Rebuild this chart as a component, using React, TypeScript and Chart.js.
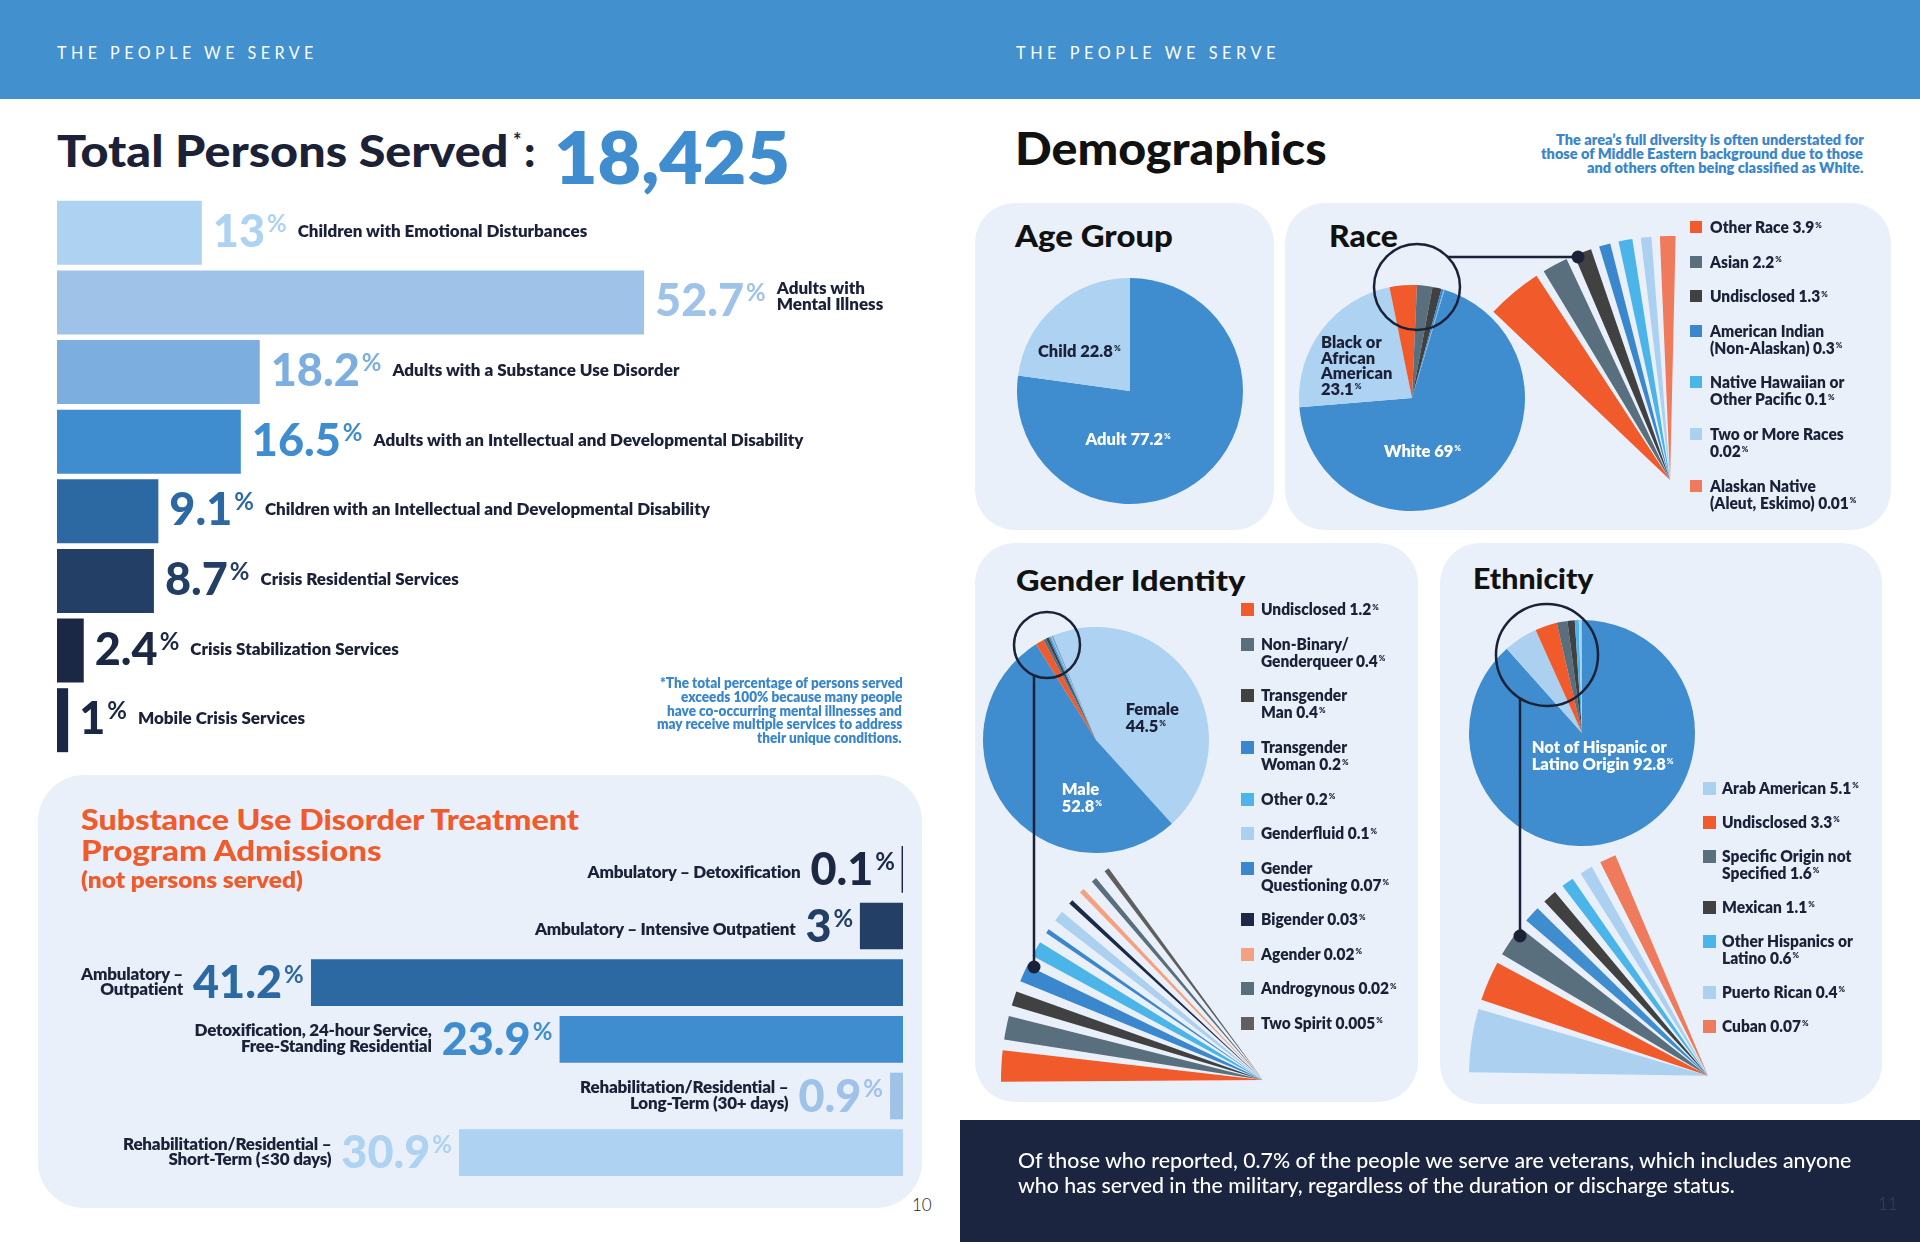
import React, { useEffect, useLayoutEffect, useRef, useState } from 'react';
import { Chart, registerables } from 'chart.js';

Chart.register(...registerables);

// ---------------- data ----------------
const servedTotal = '18,425';
const servedCategories = [
  'Children with Emotional Disturbances',
  'Adults with\nMental Illness',
  'Adults with a Substance Use Disorder',
  'Adults with an Intellectual and Developmental Disability',
  'Children with an Intellectual and Developmental Disability',
  'Crisis Residential Services',
  'Crisis Stabilization Services',
  'Mobile Crisis Services',
];
const servedValues = [13, 52.7, 18.2, 16.5, 9.1, 8.7, 2.4, 1];

const sudCategories = [
  'Ambulatory – Detoxification',
  'Ambulatory – Intensive Outpatient',
  'Ambulatory –\nOutpatient',
  'Detoxification, 24-hour Service,\nFree-Standing Residential',
  'Rehabilitation/Residential –\nLong-Term (30+ days)',
  'Rehabilitation/Residential –\nShort-Term (≤30 days)',
];
const sudValues = [0.1, 3, 41.2, 23.9, 0.9, 30.9];

const ageCategories = ['Adult', 'Child'];
const ageValues = [77.2, 22.8];

const raceCategories = [
  'White',
  'Black or\nAfrican\nAmerican',
  'Other Race',
  'Asian',
  'Undisclosed',
  'American Indian\n(Non-Alaskan)',
  'Native Hawaiian or\nOther Pacific',
  'Two or More Races\n',
  'Alaskan Native\n(Aleut, Eskimo)',
];
const raceValues = [69, 23.1, 3.9, 2.2, 1.3, 0.3, 0.1, 0.02, 0.01];
// magnified fan: categories shown and the angular width (deg) each wedge has in the picture
const raceFanItems = [2, 3, 4, 5, 6, 7, 8];
const raceFanDeg = [13.2, 6.1, 4.2, 2.7, 3.3, 2.5, 3.7];

const genderCategories = [
  'Female', 'Male', 'Undisclosed', 'Non-Binary/\nGenderqueer', 'Transgender\nMan', 'Transgender\nWoman',
  'Other', 'Genderfluid', 'Gender\nQuestioning', 'Bigender', 'Agender', 'Androgynous', 'Two Spirit',
];
const genderValues = [44.5, 52.8, 1.2, 0.4, 0.4, 0.2, 0.2, 0.1, 0.07, 0.03, 0.02, 0.02, 0.005];
const genderFanItems = [2, 3, 4, 5, 6, 8, 7, 9, 10, 11, 12];
const genderFanDeg = [6.9, 5.2, 3.2, 3.8, 3.4, 1.0, 2.4, 1.0, 1.1, 1.2, 1.1];

const ethCategories = [
  'Not of Hispanic or\nLatino Origin', 'Arab American', 'Undisclosed', 'Specific Origin not\nSpecified',
  'Mexican', 'Other Hispanics or\nLatino', 'Puerto Rican', 'Cuban',
];
const ethValues = [92.8, 5.1, 3.3, 1.6, 1.1, 0.6, 0.4, 0.07];
const ethFanItems = [1, 2, 3, 0, 4, 5, 6, 7];
const ethFanDeg = [15.4, 9.7, 7.7, 4.0, 3.4, 3.0, 3.1, 4.0];

const footnoteLines = [
  '*The total percentage of persons served',
  'exceeds 100% because many people',
  'have co-occurring mental illnesses and',
  'may receive multiple services to address',
  'their unique conditions.',
];
const noteLines = [
  'The area’s full diversity is often understated for',
  'those of Middle Eastern background due to those',
  'and others often being classified as White.',
];
const veteranLines = [
  'Of those who reported, 0.7% of the people we serve are veterans, which includes anyone',
  'who has served in the military, regardless of the duration or discharge status.',
];

// ---------------- styles ----------------
const W = 1920;
const H = 1242;
const SANS = "Lato, 'Noto Sans', sans-serif";
const INK = '#1b2238';
const HEAD = '#4290ce';
const BLUE = '#3f8dcf';
const LIGHT = '#aed2f1';
const ORANGE = '#f15a2b';
const SLATE = '#596f7e';
const CHAR = '#414141';
const MBLUE = '#3a87cd';
const CYAN = '#4bb5ea';
const LBLUE = '#abd0f0';
const SALMON = '#ef7b5c';
const PEACH = '#f5a07e';
const GRAY = '#5f5f5f';
const NAVY = '#1c2a48';
const BOXBG = '#e9f0f9';
const NOTE = '#3a86cc';
const FOOT = '#1b2540';
const LW = 800; // weight of label text
const NW = 900; // weight of big numbers

const servedColors = ['#aed2f1', '#9ec2e8', '#7cafe0', '#3f8dcf', '#2c69a2', '#243f66', '#1b2843', '#1b2843'];
const sudColors = ['#1b2843', '#243f66', '#2c69a2', '#3f8dcf', '#9ec2e8', '#aed2f1'];
const raceColors = [BLUE, LIGHT, ORANGE, SLATE, CHAR, MBLUE, CYAN, LBLUE, SALMON];
const genderColors = [LIGHT, BLUE, ORANGE, SLATE, CHAR, MBLUE, CYAN, LBLUE, MBLUE, NAVY, PEACH, SLATE, GRAY];
const ethColors = [BLUE, LBLUE, ORANGE, SLATE, CHAR, CYAN, LBLUE, SALMON];

// ---------------- text helper ----------------
function T(p: any) {
  const box = useRef<HTMLDivElement>(null);
  const inn = useRef<HTMLSpanElement>(null);
  const mk = useRef<HTMLSpanElement>(null);
  useLayoutEffect(() => {
    const fit = () => {
      const b = box.current, i = inn.current, m = mk.current;
      if (!b || !i || !m) return;
      const nat = i.offsetWidth || 1;
      const sc = p.w ? p.w / nat : (p.k ?? 1);
      i.style.transform = `scaleX(${sc})`;
      const vw = nat * sc;
      const a = p.a || 'left';
      b.style.left = (a === 'left' ? p.x : a === 'right' ? p.x - vw : p.x - vw / 2) + 'px';
      b.style.top = (p.y - m.offsetTop) + 'px';
      b.style.visibility = 'visible';
    };
    fit();
    const fs: any = (document as any).fonts;
    if (fs && fs.ready) fs.ready.then(fit);
  });
  return (
    <div
      ref={box}
      style={{
        position: 'absolute', left: 0, top: 0, whiteSpace: 'nowrap', visibility: 'hidden',
        fontFamily: p.f || SANS, fontWeight: p.wt ?? LW, fontSize: p.s, color: p.c || INK,
        letterSpacing: p.ls || 0, lineHeight: 'normal',
      }}
    >
      <span ref={inn} style={{ display: 'inline-block', transformOrigin: '0 0', textAlign: p.ta || 'left' }}>{p.children}</span>
      <span ref={mk} style={{ display: 'inline-block', width: 0, height: 0 }} />
    </div>
  );
}

const Pct = ({ s, r, ml = 2, wt }: any) => (
  <span style={{ fontSize: s, verticalAlign: r, marginLeft: ml, fontWeight: wt }}>%</span>
);

function Lines({ text }: any) {
  const ls = text.split('\n');
  return <>{ls.map((l: string, j: number) => <React.Fragment key={j}>{j > 0 && <br />}{l}</React.Fragment>)}</>;
}

// ---------------- chart helpers ----------------
function arcRect(ax: number, ay: number, R: number, rotDeg: number, circDeg: number, pad = 3) {
  const TAU = Math.PI * 2;
  const norm = (a: number) => ((a % TAU) + TAU) % TAU;
  const s = ((rotDeg - 90) * Math.PI) / 180;
  const e = s + (circDeg * Math.PI) / 180;
  const inArc = (a: number) => circDeg >= 360 || norm(a - s) <= e - s + 1e-9;
  const sx = Math.cos(s), sy = Math.sin(s), ex = Math.cos(e), ey = Math.sin(e);
  const maxX = inArc(0) ? 1 : Math.max(sx, ex, 0);
  const maxY = inArc(Math.PI / 2) ? 1 : Math.max(sy, ey, 0);
  const minX = inArc(Math.PI) ? -1 : Math.min(sx, ex, 0);
  const minY = inArc(Math.PI * 1.5) ? -1 : Math.min(sy, ey, 0);
  const w = Math.ceil(R * (maxX - minX) + 2 * pad);
  const h = Math.ceil(R * (maxY - minY) + 2 * pad);
  const cx = ax + (R * (maxX + minX)) / 2;
  const cy = ay + (R * (maxY + minY)) / 2;
  return { left: Math.round(cx - w / 2), top: Math.round(cy - h / 2), width: w, height: h };
}

function PieCanvas({ cx, cy, R, labels, data, colors, rotation = 0, circumference = 360 }: any) {
  const ref = useRef<HTMLCanvasElement>(null);
  const r = arcRect(cx, cy, R, rotation, circumference);
  useEffect(() => {
    const chart = new Chart(ref.current as HTMLCanvasElement, {
      type: 'pie',
      data: {
        labels,
        datasets: [{ data, backgroundColor: colors, borderWidth: 0, rotation, circumference, radius: R } as any],
      },
      options: {
        animation: false, responsive: false, events: [], rotation, circumference, radius: R,
        layout: { padding: 0 },
        plugins: { legend: { display: false }, tooltip: { enabled: false } },
      } as any,
    });
    return () => chart.destroy();
  }, []);
  return (
    <canvas ref={ref} width={r.width} height={r.height}
      style={{ position: 'absolute', left: r.left, top: r.top, width: r.width, height: r.height }} />
  );
}

function fanData(items: number[], deg: number[], gap: number, colors: string[], names: string[]) {
  const data: number[] = [];
  const bg: string[] = [];
  const labels: string[] = [];
  items.forEach((idx, j) => {
    if (j > 0) { data.push(gap); bg.push('rgba(0,0,0,0)'); labels.push(''); }
    data.push(deg[j]); bg.push(colors[idx]); labels.push(names[idx].replace(/\n/g, ' '));
  });
  return { data, bg, labels, total: data.reduce((a, b) => a + b, 0) };
}

function Fan({ ax, ay, R, start, items, deg, gap, colors, names }: any) {
  const f = fanData(items, deg, gap, colors, names);
  return <PieCanvas cx={ax} cy={ay} R={R} labels={f.labels} data={f.data} colors={f.bg} rotation={start} circumference={f.total} />;
}

function HBar({ left, top, width, height, max, reverse, labels, values, colors, barPct, onBars }: any) {
  const ref = useRef<HTMLCanvasElement>(null);
  useEffect(() => {
    const chart = new Chart(ref.current as HTMLCanvasElement, {
      type: 'bar',
      data: {
        labels: labels.map((l: string) => l.replace(/\n/g, ' ')),
        datasets: [{ data: values, backgroundColor: colors, borderWidth: 0, barPercentage: barPct, categoryPercentage: 1 }],
      },
      options: {
        indexAxis: 'y', animation: false, responsive: false, events: [],
        layout: { padding: 0 },
        plugins: { legend: { display: false }, tooltip: { enabled: false } },
        scales: {
          x: { display: false, min: 0, max, reverse },
          y: { display: false, grid: { display: false } },
        },
      } as any,
    });
    const meta = chart.getDatasetMeta(0);
    onBars(meta.data.map((b: any) => ({ x: b.x, y: b.y, base: b.base })));
    return () => chart.destroy();
  }, []);
  return <canvas ref={ref} width={width} height={height} style={{ position: 'absolute', left, top, width, height }} />;
}

function Box({ x1, y1, x2, y2, r = 40, bg = BOXBG }: any) {
  return <div style={{ position: 'absolute', left: x1, top: y1, width: x2 - x1, height: y2 - y1, borderRadius: r, background: bg }} />;
}

function Legend({ x, sq, y0, items, cats, vals, colors, s = 16, lh = 17.2, gap = 17.3, sqs = 13, k = 0.97 }: any) {
  let y = y0;
  const out: any[] = [];
  items.forEach((idx: number) => {
    const lines = cats[idx].split('\n');
    out.push(<div key={'s' + idx} style={{ position: 'absolute', left: sq, top: y - 12, width: sqs, height: sqs, background: colors[idx] }} />);
    lines.forEach((ln: string, j: number) => {
      const last = j === lines.length - 1;
      const txt = last ? (ln ? ln + ' ' : '') + vals[idx] : ln;
      out.push(
        <T key={idx + '-' + j} x={x} y={y + j * lh} s={s} k={k}>
          {txt}{last && <Pct s={8} r={5.5} ml={1} />}
        </T>
      );
    });
    y += lines.length * lh + gap;
  });
  return <>{out}</>;
}

// layout of bar charts
const LB = { left: 57, top: 198, width: 860, height: 557 };
const LB_MAX = 77.2;
const SB = { left: 63, top: 841, width: 840, height: 340 };
const SB_MAX = 58.46;

export default function App() {
  const [lb, setLb] = useState<any[] | null>(null);
  const [sb, setSb] = useState<any[] | null>(null);
  useEffect(() => {
    document.body.style.margin = '0';
    document.body.style.overflow = 'hidden';
  }, []);

  return (
    <div style={{ position: 'absolute', left: 0, top: 0, width: W, height: H, overflow: 'hidden', background: '#fff', fontFamily: SANS }}>
      {/* header */}
      <div style={{ position: 'absolute', left: 0, top: 0, width: W, height: 99, background: HEAD }} />
      <T x={57} y={59} s={18} wt={400} c="#fff" ls={5} w={261}>THE PEOPLE WE SERVE</T>
      <T x={1016} y={59} s={18} wt={400} c="#fff" ls={5} w={264}>THE PEOPLE WE SERVE</T>

      {/* boxes */}
      <Box x1={38} y1={775} x2={922} y2={1208} r={46} />
      <Box x1={975} y1={203} x2={1274} y2={530} r={40} />
      <Box x1={1285} y1={203} x2={1891} y2={530} r={40} />
      <Box x1={975} y1={543} x2={1418} y2={1102} r={40} />
      <Box x1={1440} y1={543} x2={1882} y2={1104} r={40} />
      <div style={{ position: 'absolute', left: 960, top: 1120, width: 960, height: 122, background: FOOT }} />

      {/* left page title */}
      <T x={57} y={167} s={44} wt={900} w={451}>Total Persons Served</T>
      <T x={513} y={147.5} s={20} wt={700}>*</T>
      <T x={524} y={167} s={44} wt={900}>:</T>
      <T x={554} y={184} s={72} wt={800} c={BLUE} w={236}>{servedTotal}</T>

      {/* bar charts */}
      <HBar {...LB} max={LB_MAX} reverse={false} labels={servedCategories} values={servedValues}
        colors={servedColors} barPct={0.919} onBars={setLb} />
      <HBar {...SB} max={SB_MAX} reverse={true} labels={sudCategories} values={sudValues}
        colors={sudColors} barPct={0.8235} onBars={setSb} />

      {lb && lb.map((b, i) => {
        const two = servedCategories[i].includes('\n');
        return (
          <T key={'lb' + i} x={LB.left + b.x + 11} y={LB.top + b.y + 14} s={45} wt={NW} c={servedColors[i]}>
            {String(servedValues[i])}<Pct s={24} r={15} wt={700} />
            <span style={{ display: 'inline-block', fontSize: 17, fontWeight: LW, color: INK, marginLeft: 11, lineHeight: '16.7px', verticalAlign: two ? 6 : 10 }}>
              <Lines text={servedCategories[i]} />
            </span>
          </T>
        );
      })}

      {footnoteLines.map((l, i) => (
        <T key={'fn' + i} a="right" x={902} y={688 + i * 13.8} s={14} c={NOTE} k={0.97}>{l}</T>
      ))}

      {/* substance use box */}
      <T x={81} y={830} s={29} wt={900} c={ORANGE} w={498}>Substance Use Disorder Treatment</T>
      <T x={81} y={861} s={29} wt={900} c={ORANGE} w={300}>Program Admissions</T>
      <T x={81} y={888} s={22} wt={800} c={ORANGE} w={222}>(not persons served)</T>

      {sb && sb.map((b, i) => {
        const two = sudCategories[i].includes('\n');
        const start = SB.left + Math.min(b.x, b.base);
        return (
          <T key={'sb' + i} a="right" x={start - 7} y={SB.top + b.y + 15.5} s={45} wt={NW} c={sudColors[i]}>
            <span style={{ display: 'inline-block', fontSize: 17, fontWeight: LW, color: INK, marginRight: 10, lineHeight: '15.5px', verticalAlign: two ? 3 : 7, textAlign: 'right', letterSpacing: -0.2 }}>
              <Lines text={sudCategories[i]} />
            </span>
            {String(sudValues[i])}<Pct s={24} r={15} wt={700} />
          </T>
        );
      })}
      <T x={912} y={1211} s={17} wt={300} c="#222">10</T>

      {/* right page */}
      <T x={1015} y={165} s={46} wt={900} c="#111" w={312}>Demographics</T>
      {noteLines.map((l, i) => (
        <T key={'nt' + i} a="right" x={1863} y={145 + i * 14} s={15} c={NOTE} k={0.97}>{l}</T>
      ))}

      <T x={1015} y={247} s={30} wt={900} c="#111" w={158}>Age Group</T>
      <T x={1329} y={247} s={30} wt={900} c="#111" w={69}>Race</T>
      <T x={1016} y={591} s={29} wt={900} c="#111" w={229}>Gender Identity</T>
      <T x={1473} y={589} s={29} wt={900} c="#111" w={120}>Ethnicity</T>

      {/* pies */}
      <PieCanvas cx={1129.5} cy={391} R={113} labels={ageCategories} data={ageValues} colors={[BLUE, LIGHT]} rotation={0} />
      <PieCanvas cx={1411.5} cy={398} R={113} labels={raceCategories.map((c) => c.replace(/\n/g, ' '))} data={raceValues} colors={raceColors} rotation={16.7} />
      <PieCanvas cx={1096} cy={740} R={113} labels={genderCategories.map((c) => c.replace(/\n/g, ' '))} data={genderValues} colors={genderColors} rotation={-22.5} />
      <PieCanvas cx={1582} cy={733} R={113} labels={ethCategories.map((c) => c.replace(/\n/g, ' '))} data={ethValues} colors={ethColors} rotation={0} />

      {/* magnified fans */}
      <Fan ax={1670} ay={480} R={244} start={-46.4} items={raceFanItems} deg={raceFanDeg} gap={2} colors={raceColors} names={raceCategories} />
      <Fan ax={1263} ay={1080} R={262} start={269.6} items={genderFanItems} deg={genderFanDeg} gap={2.4} colors={genderColors} names={genderCategories} />
      <Fan ax={1708} ay={1076} R={239} start={270.8} items={ethFanItems} deg={ethFanDeg} gap={2.3} colors={ethColors} names={ethCategories} />

      {/* magnifier annotations */}
      <svg width={W} height={H} style={{ position: 'absolute', left: 0, top: 0 }}>
        <g stroke={INK} strokeWidth={2.5} fill="none">
          <circle cx={1417} cy={287} r={43} />
          <line x1={1448} y1={257} x2={1578} y2={257} />
          <circle cx={1047} cy={645} r={33} />
          <line x1={1034} y1={675} x2={1034} y2={967} />
          <circle cx={1547} cy={655} r={51} />
          <line x1={1520} y1={698} x2={1520} y2={936} />
        </g>
        <g fill={INK}>
          <circle cx={1578} cy={257} r={6.5} />
          <circle cx={1034} cy={967} r={6.5} />
          <circle cx={1520} cy={936} r={6.5} />
        </g>
      </svg>

      {/* pie labels */}
      <T x={1038} y={356.7} s={16.5}>{ageCategories[1]} {ageValues[1]}<Pct s={8} r={6} ml={1} /></T>
      <T x={1085.5} y={445} s={16.5} c="#fff">{ageCategories[0]} {ageValues[0]}<Pct s={8} r={6} ml={1} /></T>

      {raceCategories[1].split('\n').map((l, i) => (
        <T key={'bl' + i} x={1321} y={348 + i * 15.5} s={16.5}>{l}</T>
      ))}
      <T x={1321} y={348 + 3 * 15.5} s={16.5}>{raceValues[1]}<Pct s={8} r={6} ml={1} /></T>
      <T x={1384} y={457} s={16.5} c="#fff">{raceCategories[0]} {raceValues[0]}<Pct s={8} r={6} ml={1} /></T>

      <T x={1125.7} y={715} s={16.5}>{genderCategories[0]}</T>
      <T x={1125.7} y={731.7} s={16.5}>{genderValues[0]}<Pct s={8} r={6} ml={1} /></T>
      <T x={1061.7} y={795} s={16.5} c="#fff">{genderCategories[1]}</T>
      <T x={1061.7} y={811.7} s={16.5} c="#fff">{genderValues[1]}<Pct s={8} r={6} ml={1} /></T>

      <T x={1531.7} y={753} s={16.5} c="#fff">{ethCategories[0].split('\n')[0]}</T>
      <T x={1531.7} y={770} s={16.5} c="#fff">{ethCategories[0].split('\n')[1]} {ethValues[0]}<Pct s={8} r={6} ml={1} /></T>

      {/* legends */}
      <Legend x={1710} sq={1690} sqs={12} y0={233} items={[2, 3, 4, 5, 6, 7, 8]} cats={raceCategories} vals={raceValues} colors={raceColors} />
      <Legend x={1261} sq={1241} y0={615} items={[2, 3, 4, 5, 6, 7, 8, 9, 10, 11, 12]} cats={genderCategories} vals={genderValues} colors={genderColors} />
      <Legend x={1722} sq={1703} y0={793.7} lh={16.8} items={[1, 2, 3, 4, 5, 6, 7]} cats={ethCategories} vals={ethValues} colors={ethColors} />

      {/* veterans footer */}
      <T x={1018} y={1168} s={20.5} wt={500} c="#fff" w={833}>{veteranLines[0]}</T>
      <T x={1018} y={1193} s={20.5} wt={500} c="#fff" w={717}>{veteranLines[1]}</T>
      <T x={1878} y={1210} s={17} wt={300} c="#39435f">11</T>
    </div>
  );
}
